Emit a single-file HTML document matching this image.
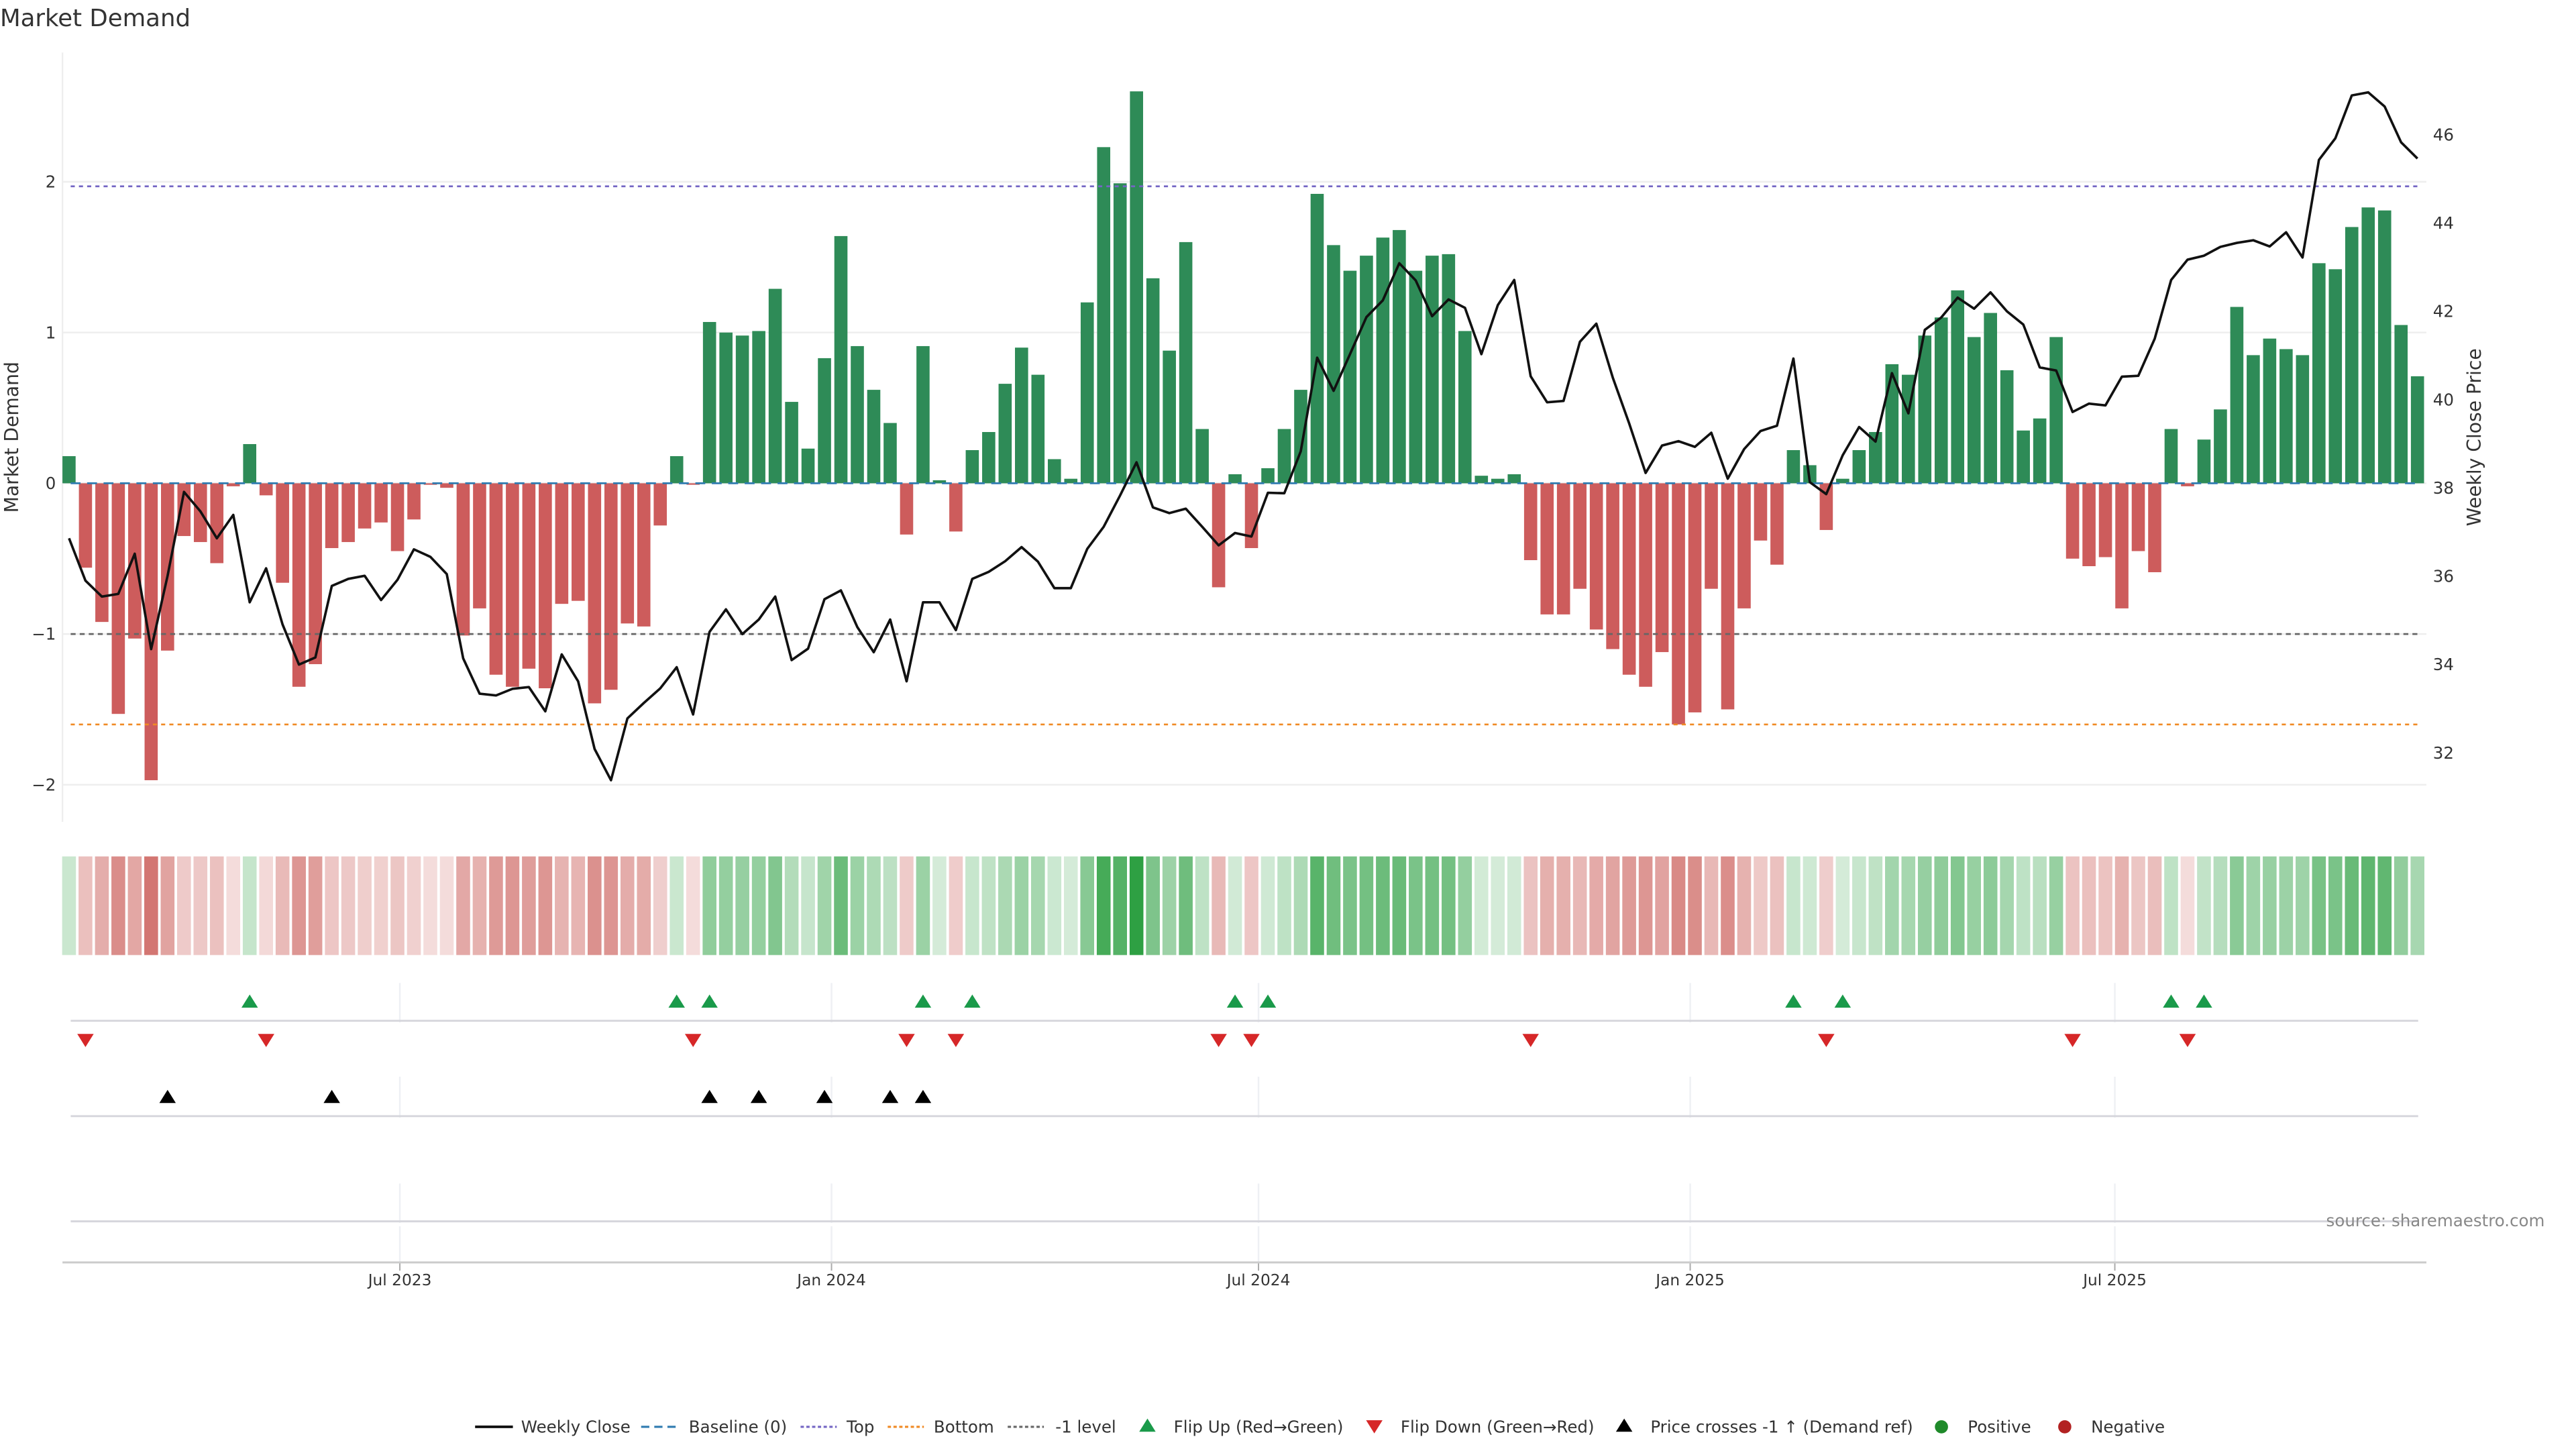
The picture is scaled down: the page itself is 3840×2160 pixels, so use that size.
<!DOCTYPE html>
<html><head><meta charset="utf-8"><title>Market Demand</title>
<style>
html,body{margin:0;padding:0;background:#fff;}
svg{display:block;font-family:"DejaVu Sans","Liberation Sans",sans-serif;}
</style></head>
<body>
<svg id="chart" width="3840" height="2160" viewBox="0 0 1567 881.5" preserveAspectRatio="none" xmlns="http://www.w3.org/2000/svg">
<text x="0" y="16" font-size="14.5" fill="#333">Market Demand</text>
<g id="grid"></g>
<g id="refs"></g>
<g id="bars"></g>
<g id="line"></g>
<g id="heat"></g>
<g id="markers"></g>
<g id="axes"></g>
<text transform="translate(11,266) rotate(-90)" text-anchor="middle" font-size="11.5" fill="#333">Market Demand</text>
<text transform="translate(1509,266) rotate(-90)" text-anchor="middle" font-size="11.5" fill="#333">Weekly Close Price</text>
<text x="1548" y="746" text-anchor="end" font-size="10" fill="#888">source: sharemaestro.com</text>
<g id="legend"></g>
</svg>
<script>
const demand = [0.18,-0.56,-0.92,-1.53,-1.03,-1.97,-1.11,-0.35,-0.39,-0.53,-0.02,0.26,-0.08,-0.66,-1.35,-1.20,-0.43,-0.39,-0.30,-0.26,-0.45,-0.24,-0.01,-0.03,-1.01,-0.83,-1.27,-1.35,-1.23,-1.36,-0.80,-0.78,-1.46,-1.37,-0.93,-0.95,-0.28,0.18,-0.01,1.07,1.00,0.98,1.01,1.29,0.54,0.23,0.83,1.64,0.91,0.62,0.40,-0.34,0.91,0.02,-0.32,0.22,0.34,0.66,0.90,0.72,0.16,0.03,1.20,2.23,1.99,2.60,1.36,0.88,1.60,0.36,-0.69,0.06,-0.43,0.10,0.36,0.62,1.92,1.58,1.41,1.51,1.63,1.68,1.41,1.51,1.52,1.01,0.05,0.03,0.06,-0.51,-0.87,-0.87,-0.70,-0.97,-1.10,-1.27,-1.35,-1.12,-1.60,-1.52,-0.70,-1.50,-0.83,-0.38,-0.54,0.22,0.12,-0.31,0.03,0.22,0.34,0.79,0.72,0.98,1.10,1.28,0.97,1.13,0.75,0.35,0.43,0.97,-0.50,-0.55,-0.49,-0.83,-0.45,-0.59,0.36,-0.02,0.29,0.49,1.17,0.85,0.96,0.89,0.85,1.46,1.42,1.70,1.83,1.81,1.05,0.71];
const price = [36.86,35.90,35.54,35.60,36.51,34.35,36.01,37.91,37.47,36.86,37.39,35.41,36.18,34.91,34.00,34.16,35.78,35.94,36.01,35.46,35.92,36.61,36.44,36.05,34.14,33.34,33.30,33.45,33.49,32.94,34.23,33.62,32.09,31.38,32.78,33.13,33.46,33.94,32.87,34.74,35.25,34.69,35.02,35.54,34.10,34.36,35.48,35.68,34.85,34.28,35.02,33.62,35.41,35.41,34.78,35.94,36.10,36.34,36.66,36.33,35.73,35.73,36.62,37.12,37.83,38.58,37.56,37.43,37.53,37.12,36.70,36.98,36.90,37.89,37.88,38.83,40.95,40.20,41.03,41.87,42.25,43.09,42.70,41.89,42.27,42.08,41.03,42.14,42.71,40.53,39.94,39.97,41.31,41.72,40.50,39.46,38.34,38.96,39.06,38.93,39.25,38.21,38.88,39.29,39.41,40.93,38.13,37.86,38.74,39.38,39.05,40.60,39.69,41.58,41.86,42.31,42.06,42.43,42.00,41.70,40.73,40.66,39.72,39.91,39.87,40.52,40.54,41.38,42.71,43.17,43.26,43.46,43.55,43.61,43.47,43.79,43.22,45.43,45.92,46.89,46.96,46.64,45.83,45.46];
const crossIdx = [6,16,39,42,46,50,52];
const leftTicks = [2,1,0,-1,-2];
const rightTicks = [32,34,36,38,40,42,44,46];
const dateTicks = ["2023-07-01","2024-01-01","2024-07-01","2025-01-01","2025-07-01"];
const dateLabels = ["Jul 2023","Jan 2024","Jul 2024","Jan 2025","Jul 2025"];
const levelTop = 1.97, levelBottom = -1.60, levelMinus1 = -1;

const NS = "http://www.w3.org/2000/svg";
const startDate = new Date("2023-02-10T00:00:00Z");
const X0 = 42, WEEK = 9.99;
function xIdx(i){ return X0 + WEEK*i; }
function xDate(s){ const d=(new Date(s+"T00:00:00Z")-startDate)/86400000; return X0 + d/7*WEEK; }
function yL(v){ return 294 - v*91.7; }
function yR(p){ return 458 - (p-32)*26.86; }
function mk(tag, attrs, parent){ const e=document.createElementNS(NS,tag); for(const k in attrs) e.setAttribute(k,attrs[k]); document.getElementById(parent).appendChild(e); return e; }

leftTicks.forEach(t=>{
  const g = mk("line",{x1:38,x2:1476,y1:yL(t),y2:yL(t),stroke:"#eeeeee","stroke-width":1},"grid");
  
  
  const lb = mk("text",{x:34,y:yL(t)+3.5,"text-anchor":"end","font-size":10,fill:"#333"},"axes");
  lb.textContent = t<0 ? "\u2212"+Math.abs(t) : String(t);
  
  
});
mk("line",{x1:38,x2:38,y1:32,y2:500,stroke:"#eeeeee","stroke-width":1},"grid");
rightTicks.forEach(t=>{
  const lb = mk("text",{x:1480,y:yR(t)+3.5,"font-size":10,fill:"#333"},"axes");
  lb.textContent = String(t);
  
  
});
dateTicks.forEach((d,k)=>{
  const x = xDate(d);
  [[598,622],[655,680],[720,744],[746,768]].forEach(s=>{
    const v = mk("line",{x1:x,x2:x,y1:s[0],y2:s[1],stroke:"#eef0f4","stroke-width":1},"grid");
    
    
  });
  mk("line",{x1:x,x2:x,y1:768,y2:773,stroke:"#aaa","stroke-width":0.8},"axes");
  const lb = mk("text",{x:x,y:782,"text-anchor":"middle","font-size":9.5,fill:"#333"},"axes");
  lb.textContent = dateLabels[k];
  
  
});
[621,679,743].forEach(y=>{
  const l = mk("line",{x1:43,x2:1471,y1:y,y2:y,stroke:"#d6d6dc","stroke-width":1.2},"grid");
  
  
});
const ax = mk("line",{x1:38,x2:1476,y1:768,y2:768,stroke:"#cccccc","stroke-width":1.2},"axes");



function ref(v,color,dash,name,w){
  const l = mk("line",{x1:43,x2:1471,y1:yL(v),y2:yL(v),stroke:color,"stroke-width":w||1.1,"stroke-dasharray":dash},"refs");
  
  
}
ref(levelTop,"#7466c4","2.5 2.5","top-level-line");
ref(levelMinus1,"#666","3 2.5","minus-one-level-line");
ref(levelBottom,"#f08a24","2.5 2.5","bottom-level-line");

demand.forEach((v,i)=>{
  const y0 = yL(0), y1 = yL(v);
  const r = mk("rect",{x:xIdx(i)-4,y:Math.min(y0,y1),width:8,height:Math.max(0.6,Math.abs(y1-y0)),fill:v>=0?"#2e8b57":"#cd5c5c"},"bars");
  
  
});
const bl = mk("line",{x1:43,x2:1471,y1:yL(0),y2:yL(0),stroke:"#2f7bb0","stroke-width":1.1,"stroke-dasharray":"6 4"},"refs");


document.getElementById("refs").parentNode.appendChild(document.getElementById("refs"));

const pl = mk("polyline",{points:price.map((p,i)=>xIdx(i).toFixed(2)+","+yR(p).toFixed(2)).join(" "),fill:"none",stroke:"#111","stroke-width":1.5,"stroke-linejoin":"round"},"line");


document.getElementById("line").parentNode.appendChild(document.getElementById("line"));

demand.forEach((v,i)=>{
  const a = Math.min(1,0.2+0.8*Math.abs(v)/2.6);
  const c = v>=0 ? "rgba(46,160,67,"+a.toFixed(3)+")" : "rgba(200,85,80,"+a.toFixed(3)+")";
  const r = mk("rect",{x:xIdx(i)-4.2,y:521,width:8.4,height:60,fill:c},"heat");
  
  
});

function tri(x,y,up,color,name){
  const pts = up ? [[x-5,y+4],[x+5,y+4],[x,y-4]] : [[x-5,y-4],[x+5,y-4],[x,y+4]];
  const t = mk("polygon",{points:pts.map(p=>p.join(",")).join(" "),fill:color},"markers");
  
  
}
for(let i=1;i<demand.length;i++){
  if(demand[i]>0 && demand[i-1]<=0) tri(xIdx(i),609,true,"#1a9a4a","flip-up-marker");
  if(demand[i]<=0 && demand[i-1]>0) tri(xIdx(i),633,false,"#d62728","flip-down-marker");
}
crossIdx.forEach(i=>tri(xIdx(i),667,true,"#000","price-cross-marker"));

function lt(x,s,name){ const t=mk("text",{x:x,y:871.5,"font-size":10,fill:"#333"},"legend"); t.textContent=s;   }
function ll(x1,x2,c,d,w,name){ const l=mk("line",{x1:x1,x2:x2,y1:868,y2:868,stroke:c,"stroke-width":w,"stroke-dasharray":d},"legend");   }
ll(289,312,"#111","none",1.6,"legend-weekly-close-swatch"); lt(317,"Weekly Close","legend-weekly-close");
ll(390,411,"#2f7bb0","5 3",1.3,"legend-baseline-swatch"); lt(419,"Baseline (0)","legend-baseline");
ll(487,509,"#7466c4","2 1.5",1.3,"legend-top-swatch"); lt(515,"Top","legend-top");
ll(540,562,"#f08a24","2 1.5",1.3,"legend-bottom-swatch"); lt(568,"Bottom","legend-bottom");
ll(613,635,"#666","2 1.5",1.3,"legend-minus1-swatch"); lt(642,"-1 level","legend-minus1-level");
tri(698,867,true,"#1a9a4a","legend-flip-up-swatch"); lt(714,"Flip Up (Red\u2192Green)","legend-flip-up");
tri(836,868,false,"#d62728","legend-flip-down-swatch"); lt(852,"Flip Down (Green\u2192Red)","legend-flip-down");
tri(988,867,true,"#000","legend-price-cross-swatch"); lt(1004,"Price crosses -1 \u2191 (Demand ref)","legend-price-cross");
const c1=mk("circle",{cx:1181,cy:868,r:4,fill:"#1f8a2a"},"legend");  
lt(1197,"Positive","legend-positive");
const c2=mk("circle",{cx:1256,cy:868,r:4,fill:"#b22222"},"legend");  
lt(1272,"Negative","legend-negative");
</script>
</body></html>
